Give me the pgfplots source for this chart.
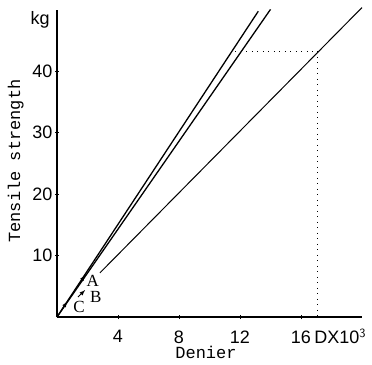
\documentclass[border=0pt]{standalone}
\usepackage{fontspec}
\setmainfont{Liberation Sans}
\setmonofont{Liberation Mono}
\newfontfamily\serifA{Liberation Serif}
\usepackage{pgfplots}
\pgfplotsset{compat=1.18}
\begin{document}
\begin{tikzpicture}
\path[use as bounding box] (-57pt,-47pt) rectangle (315pt,317pt);
\begin{axis}[
  scale only axis, width=305pt, height=307pt,
  xmin=0, xmax=20, ymin=0, ymax=50,
  axis x line*=bottom, axis y line*=left,
  axis line style={line width=1.3pt,-},
  xtick={4,8,12,16}, ytick={10,20,30,40},
  tick align=center, major tick length=4pt,
  tick style={line width=0.8pt,black},
  /pgf/number format/assume math mode=true,
  tick label style={font=\fontsize{18}{20}\selectfont},
  xticklabel style={yshift=-8pt},
  yticklabel style={xshift=1pt},
  clip=false,
]
\pgfplotstableread{
x y
0 0
13.2 49.8
}\lineone
\pgfplotstableread{
x y
0 0
14.0 50.1
}\linetwo
\pgfplotstableread{
x y
2.82 7.2
20.0 50.4
}\linethree
\addplot[black, line width=1.3pt] table {\lineone};
\addplot[black, line width=1.3pt] table {\linetwo};
\addplot[black, line width=1.0pt] table {\linethree};
% dotted guide lines
\addplot[black, line width=1pt, dash pattern=on 1pt off 4.5pt] coordinates {(11.7,43.3) (17.1,43.3) (17.1,0)};
% small arrows
\addplot[black, line width=0.9pt, ->, >=latex] coordinates {(1.38,3.25) (1.84,4.39)};
\addplot[black, line width=0.9pt, ->, >=latex] coordinates {(1.4,5.2) (1.84,6.8)};
\addplot[black, line width=0.9pt, ->, >=latex] coordinates {(0.3,1.1) (0.66,2.5)};
% labels
\node[font=\fontsize{17}{19}\selectfont\serifA] at (axis cs:2.35,5.9) {A};
\node[font=\fontsize{17}{19}\selectfont\serifA] at (axis cs:2.55,3.3) {B};
\node[font=\fontsize{17}{19}\selectfont\serifA] at (axis cs:1.44,1.6) {C};
\node[anchor=east, font=\fontsize{18}{20}\selectfont] at (axis cs:-0.25,48.4) {kg};
\node[anchor=west, font=\fontsize{18}{20}\selectfont] at (axis cs:16.65,-3.1) {DX10$^{\mathsf{3}}$};
\node[rotate=90, font=\fontsize{17}{19}\selectfont\ttfamily] at (axis cs:-2.7,25.4) {Tensile strength};
\node[font=\fontsize{17}{19}\selectfont\ttfamily] at (axis cs:9.77,-5.85) {Denier};
\end{axis}
\end{tikzpicture}
\end{document}
